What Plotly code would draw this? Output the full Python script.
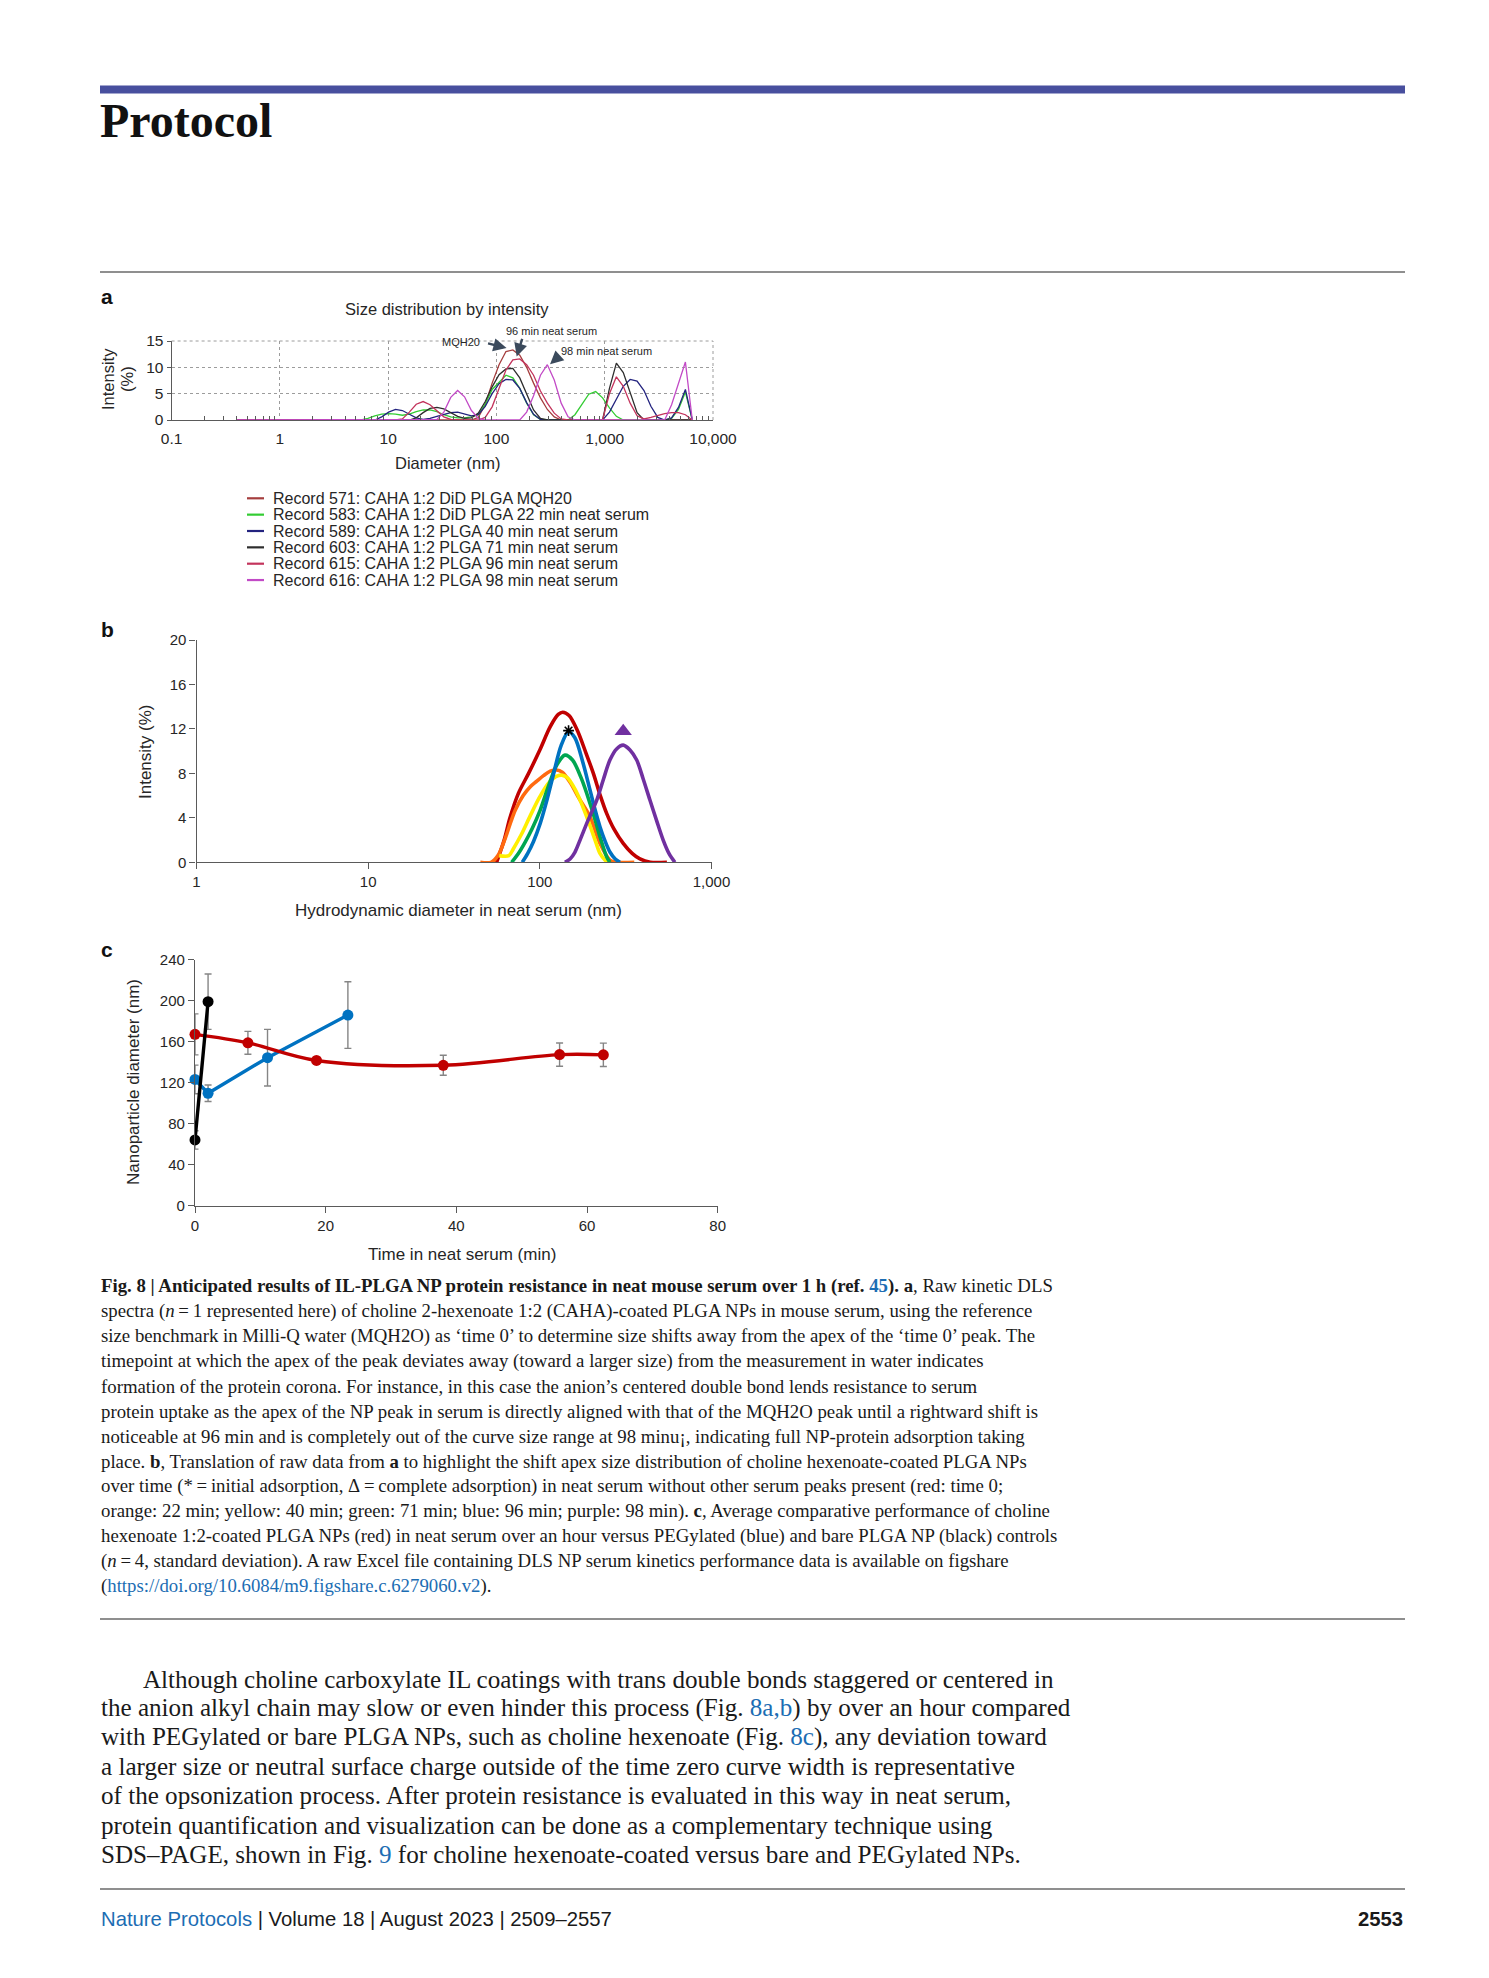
import math
import plotly.graph_objects as go

W, H = 1489, 1978
SANS = "Liberation Sans, Arial, sans-serif"
SERIF = "Liberation Serif, Times New Roman, serif"
TXT = "#262626"
AXC = "#5a5a5a"
LINK = "#1c6db3"

# ---------------- Panel a: raw DLS size distributions ----------------
SIZE_BINS_NM = [0.4, 0.4632, 0.5365, 0.6213, 0.7195, 0.8332, 0.9649, 1.117, 1.294, 1.499,
                1.736, 2.01, 2.328, 2.696, 3.122, 3.615, 4.187, 4.849, 5.615, 6.503,
                7.531, 8.721, 10.1, 11.7, 13.54, 15.69, 18.17, 21.04, 24.36, 28.21,
                32.67, 37.84, 43.82, 50.75, 58.77, 68.06, 78.82, 91.28, 105.7, 122.4,
                141.8, 164.2, 190.1, 220.2, 255.0, 295.3, 342.0, 396.1, 458.7, 531.2,
                615.1, 712.4, 825.0, 955.4, 1106, 1281, 1484, 1718, 1990, 2305,
                2669, 3091, 3580, 4145, 4801, 5560, 6439]

REC_571 = [0, 0, 0, 0, 0, 0, 0, 0, 0, 0,
           0, 0, 0, 0, 0, 0, 0, 0, 0, 0,
           0, 0, 0, 0, 0, 0, 0, 0, 0, 0,
           0, 0, 0, 0, 0, 0.5, 3.0, 7.0, 10.5, 13.0,
           13.3, 12.3, 10.0, 7.0, 4.2, 2.0, 0.6, 0, 0, 0,
           0, 0, 0, 0, 0, 0, 0, 0, 0, 0,
           0, 0, 0, 0, 0, 0, 0]
REC_583 = [0, 0, 0, 0, 0, 0, 0, 0, 0, 0,
           0, 0, 0, 0, 0, 0, 0, 0, 0, 0.3,
           0.8, 1.1, 1.2, 1.1, 0.9, 1.1, 1.6, 1.9, 1.9, 1.6,
           1.0, 0.6, 0.4, 0.4, 0.6, 1.0, 3.0, 5.8, 7.2, 8.5,
           8.0, 6.0, 3.2, 1.0, 0.1, 0, 0, 0, 0, 1.0,
           3.0, 4.9, 5.4, 4.2, 2.3, 0.7, 0, 0, 0, 0,
           0, 0, 0, 0.3, 2.0, 5.3, 0]
REC_589 = [0, 0, 0, 0, 0, 0, 0, 0, 0, 0,
           0, 0, 0, 0, 0, 0, 0, 0, 0, 0,
           0, 0.6, 1.5, 2.0, 1.8, 1.1, 0.4, 0.1, 0.3, 0.7,
           1.1, 1.4, 1.5, 1.2, 0.8, 1.0, 2.6, 5.0, 6.9, 7.7,
           7.6, 6.0, 3.3, 1.1, 0.1, 0, 0, 0, 0, 0,
           0, 0, 0, 0, 1.5, 4.0, 6.4, 7.7, 7.4, 5.6,
           2.6, 0.5, 0, 0.4, 2.4, 5.8, 0]
REC_603 = [0, 0, 0, 0, 0, 0, 0, 0, 0, 0,
           0, 0, 0, 0, 0, 0, 0, 0, 0, 0,
           0, 0, 0, 0, 0, 0, 0.4, 1.4, 2.2, 2.4,
           2.1, 1.4, 0.7, 0.3, 0.4, 1.3, 3.5, 6.3, 8.6, 9.7,
           9.8, 8.0, 4.9, 1.9, 0.3, 0, 0, 0, 0, 0,
           0, 0, 0, 0, 6.0, 10.8, 9.0, 5.2, 1.4, 0,
           0, 0, 0, 0, 0, 0, 0]
REC_615 = [0, 0, 0, 0, 0, 0, 0, 0, 0, 0,
           0, 0, 0, 0, 0, 0, 0, 0, 0, 0,
           0, 0, 0, 0, 0.2, 1.5, 3.0, 3.5, 2.9, 1.7,
           0.6, 0.1, 0, 0, 0, 0, 0.5, 2.5, 6.0, 9.5,
           11.4, 11.6, 10.5, 8.5, 5.5, 3.2, 1.3, 0.2, 0, 0,
           0, 0, 0, 0, 5.0, 8.2, 6.4, 3.2, 0.8, 0.2,
           0.5, 0.9, 1.2, 1.4, 1.4, 1.0, 0]
REC_616 = [0, 0, 0, 0, 0, 0, 0, 0, 0, 0,
           0, 0, 0, 0, 0, 0, 0, 0, 0, 0,
           0, 0, 0, 0, 0, 0, 0, 0, 0, 0.1,
           1.5, 4.3, 5.6, 4.4, 1.8, 0.3, 0, 0, 0, 0,
           0, 0, 1.5, 4.6, 8.5, 10.5, 7.6, 3.2, 0.6, 0,
           0, 0, 0, 0, 0, 0, 0, 0, 0, 0,
           0, 0, 0, 2.9, 7.0, 11.0, 0]

A_SERIES = [REC_571, REC_583, REC_589, REC_603, REC_615, REC_616]
A_NAMES = ["Record 571: CAHA 1:2 DiD PLGA MQH20",
           "Record 583: CAHA 1:2 DiD PLGA 22 min neat serum",
           "Record 589: CAHA 1:2 PLGA 40 min neat serum",
           "Record 603: CAHA 1:2 PLGA 71 min neat serum",
           "Record 615: CAHA 1:2 PLGA 96 min neat serum",
           "Record 616: CAHA 1:2 PLGA 98 min neat serum"]
A_COLORS = ["#a53e3e", "#33cc33", "#23237f", "#2e2e2e", "#c3345c", "#c24ac6"]
A_XTICKS = [0.1, 1, 10, 100, 1000, 10000]
A_XTICKTEXT = ["0.1", "1", "10", "100", "1,000", "10,000"]
A_YTICKS = [0, 5, 10, 15]

# ---------------- Panel b: translated apex curves ----------------
B_RED_X = [56, 62, 67, 75, 86, 100, 115, 128, 136, 148, 165, 185, 205, 225, 245, 270, 306, 345, 383, 440, 550]
B_RED_Y = [0, 2.0, 4.0, 6.2, 8.0, 10.1, 12.2, 13.3, 13.5, 13.2, 11.9, 9.9, 8.0, 6.0, 4.4, 3.0, 1.7, 0.8, 0.3, 0, 0]
B_ORANGE_X = [45, 52, 57, 63, 68, 72, 80, 88, 96, 105, 115, 125, 135, 150, 170, 196, 224, 256, 280, 355]
B_ORANGE_Y = [0, 0, 0.6, 2.2, 3.7, 4.7, 6.0, 6.8, 7.3, 7.8, 8.2, 8.3, 8.1, 7.2, 5.7, 4.1, 1.7, 0.2, 0, 0]
B_YELLOW_X = [58, 66, 70, 78, 88, 100, 112, 124, 134, 145, 160, 178, 196, 212, 224, 240, 251]
B_YELLOW_Y = [0.6, 0.6, 1.2, 2.5, 4.2, 5.9, 7.1, 7.7, 7.84, 7.6, 6.6, 5.0, 3.3, 1.8, 0.8, 0.2, 0]
B_GREEN_X = [68.5, 75, 82, 90, 100.5, 112, 125, 140, 155, 175, 196, 210, 224, 245, 256]
B_GREEN_Y = [0, 0.8, 1.8, 3.0, 4.7, 6.8, 8.7, 9.64, 9.2, 7.5, 5.3, 3.8, 2.3, 0.5, 0]
B_BLUE_X = [79, 85, 92, 100.5, 110, 120, 133, 147, 160, 178, 196, 210, 224, 240, 256, 275, 293]
B_BLUE_Y = [0, 0.8, 1.9, 3.5, 5.6, 7.9, 10.5, 11.74, 11.2, 9.0, 6.5, 4.7, 3.2, 1.9, 0.93, 0.3, 0]
B_PURPLE_X = [140, 150, 160, 171.5, 190, 214.6, 235, 256, 280, 306, 335, 366.6, 400, 437.8, 480, 523, 565, 612]
B_PURPLE_Y = [0, 0.3, 0.9, 2.0, 3.7, 5.6, 7.5, 9.2, 10.2, 10.54, 10.1, 9.2, 7.5, 5.6, 3.7, 2.0, 0.8, 0]
B_CURVES = [("time 0", B_RED_X, B_RED_Y, "#c00000"),
            ("22 min", B_ORANGE_X, B_ORANGE_Y, "#ff6a10"),
            ("40 min", B_YELLOW_X, B_YELLOW_Y, "#ffef00"),
            ("71 min", B_GREEN_X, B_GREEN_Y, "#00a651"),
            ("96 min", B_BLUE_X, B_BLUE_Y, "#0072c1"),
            ("98 min", B_PURPLE_X, B_PURPLE_Y, "#7030a0")]
B_INITIAL_MARK = ([147], [11.85])     # * = initial adsorption
B_COMPLETE_MARK = ([306], [11.8])     # triangle = complete adsorption
B_XTICKS = [1, 10, 100, 1000]
B_XTICKTEXT = ["1", "10", "100", "1,000"]
B_YTICKS = [0, 4, 8, 12, 16, 20]

# ---------------- Panel c: average diameters over time ----------------
C_TIME_RED = [0, 8.1, 18.6, 38.0, 55.8, 62.5]
C_SIZE_RED = [167, 158.7, 141.5, 136.8, 147.2, 147.0]
C_ERR_RED = [20, 11.2, 1.5, 9.8, 11.4, 11.4]
C_TIME_BLUE = [0, 2.0, 11.1, 23.4]
C_SIZE_BLUE = [123, 109.5, 144.2, 185.8]
C_ERR_BLUE = [14, 8.0, 27.6, 32.5]
C_TIME_BLACK = [0, 2.0]
C_SIZE_BLACK = [64, 198.8]
C_ERR_BLACK = [9, 27]
C_XTICKS = [0, 20, 40, 60, 80]
C_YTICKS = [0, 40, 80, 120, 160, 200, 240]


def fx(x):
    return x / W


def fy(y):
    return 1 - y / H


fig = go.Figure()

# panel a traces
for name, ys, col in zip(A_NAMES, A_SERIES, A_COLORS):
    fig.add_trace(go.Scatter(x=SIZE_BINS_NM, y=ys, mode="lines", name=name,
                             line=dict(color=col, width=1.3),
                             xaxis="x", yaxis="y", showlegend=False))

# panel b traces
for name, xs, ys, col in B_CURVES:
    fig.add_trace(go.Scatter(x=xs, y=ys, mode="lines", name=name,
                             line=dict(color=col, width=3.6, shape="spline", smoothing=0.9),
                             xaxis="x2", yaxis="y2", showlegend=False))
fig.add_trace(go.Scatter(x=B_INITIAL_MARK[0], y=B_INITIAL_MARK[1], mode="markers",
                         marker=dict(symbol="asterisk-open", size=9, color="#000000",
                                     line=dict(color="#000000", width=1.6)),
                         xaxis="x2", yaxis="y2", showlegend=False, cliponaxis=False))
fig.add_trace(go.Scatter(x=B_COMPLETE_MARK[0], y=B_COMPLETE_MARK[1], mode="markers",
                         marker=dict(symbol="triangle-up", size=15, color="#7030a0"),
                         xaxis="x2", yaxis="y2", showlegend=False, cliponaxis=False))

# panel c traces
ERRC = "#858585"
fig.add_trace(go.Scatter(x=C_TIME_BLUE, y=C_SIZE_BLUE, mode="lines+markers", name="PEGylated",
                         line=dict(color="#0072c1", width=3.4),
                         marker=dict(size=11, color="#0072c1"),
                         error_y=dict(type="data", array=C_ERR_BLUE, color=ERRC, thickness=1.4, width=3.5),
                         xaxis="x3", yaxis="y3", showlegend=False, cliponaxis=False))
fig.add_trace(go.Scatter(x=C_TIME_RED, y=C_SIZE_RED, mode="lines+markers", name="CAHA 1:2",
                         line=dict(color="#c00000", width=3.4, shape="spline", smoothing=1.0),
                         marker=dict(size=11, color="#c00000"),
                         error_y=dict(type="data", array=C_ERR_RED, color=ERRC, thickness=1.4, width=3.5),
                         xaxis="x3", yaxis="y3", showlegend=False, cliponaxis=False))
fig.add_trace(go.Scatter(x=C_TIME_BLACK, y=C_SIZE_BLACK, mode="lines+markers", name="bare PLGA",
                         line=dict(color="#000000", width=3.4),
                         marker=dict(size=11, color="#000000"),
                         error_y=dict(type="data", array=C_ERR_BLACK, color=ERRC, thickness=1.4, width=3.5),
                         xaxis="x3", yaxis="y3", showlegend=False, cliponaxis=False))

tickfont = dict(family=SANS, size=15, color=TXT)
minor_a = [m * 10 ** e for e in range(-1, 4) for m in range(2, 10)]

fig.update_layout(
    width=W, height=H, margin=dict(l=0, r=0, t=0, b=0, autoexpand=False),
    paper_bgcolor="white", plot_bgcolor="rgba(0,0,0,0)", showlegend=False,
    xaxis=dict(domain=[fx(171.6), fx(713)], anchor="y", type="log", range=[-1, 4],
               tickmode="array", tickvals=A_XTICKS, ticktext=A_XTICKTEXT, ticks="",
               showline=True, linecolor=AXC, linewidth=1.2, zeroline=False, automargin=False,
               showgrid=True, gridcolor="#9c9c9c", griddash="dot", gridwidth=1,
               minor=dict(tickmode="array", tickvals=minor_a, ticks="inside", ticklen=4,
                          tickcolor=AXC, tickwidth=1, showgrid=False),
               tickfont=dict(family=SANS, size=15.5, color=TXT), ticklabelstandoff=4),
    yaxis=dict(domain=[fy(420), fy(341)], anchor="x", range=[0, 15],
               tickmode="array", tickvals=A_YTICKS, ticks="outside", ticklen=4, tickcolor=AXC,
               showline=True, linecolor=AXC, linewidth=1.2, zeroline=False, automargin=False,
               showgrid=True, gridcolor="#9c9c9c", griddash="dot", gridwidth=1,
               tickfont=dict(family=SANS, size=15.5, color=TXT)),
    xaxis2=dict(domain=[fx(196.5), fx(711.5)], anchor="y2", type="log", range=[0, 3],
                tickmode="array", tickvals=B_XTICKS, ticktext=B_XTICKTEXT,
                ticks="outside", ticklen=6, tickcolor=AXC, showline=True, linecolor=AXC,
                linewidth=1.2, showgrid=False, zeroline=False, automargin=False, tickfont=tickfont),
    yaxis2=dict(domain=[fy(862.3), fy(640)], anchor="x2", range=[0, 20],
                tickmode="array", tickvals=B_YTICKS, ticks="outside", ticklen=6, tickcolor=AXC,
                showline=True, linecolor=AXC, linewidth=1.2, showgrid=False, zeroline=False,
                automargin=False, tickfont=tickfont),
    xaxis3=dict(domain=[fx(195), fx(717.7)], anchor="y3", range=[0, 80],
                tickmode="array", tickvals=C_XTICKS, ticks="outside", ticklen=6, tickcolor=AXC,
                showline=True, linecolor=AXC, linewidth=1.2, showgrid=False, zeroline=False,
                automargin=False, tickfont=tickfont),
    yaxis3=dict(domain=[fy(1205.5), fy(959.5)], anchor="x3", range=[0, 240],
                tickmode="array", tickvals=C_YTICKS, ticks="outside", ticklen=6, tickcolor=AXC,
                showline=True, linecolor=AXC, linewidth=1.2, showgrid=False, zeroline=False,
                automargin=False, tickfont=tickfont),
)

shapes = []
# header bar and rules
shapes.append(dict(type="rect", xref="paper", yref="paper", x0=fx(100), x1=fx(1405),
                   y0=fy(93.5), y1=fy(85.5), fillcolor="#484f9e", line=dict(width=0)))
for yy in (272, 1619, 1889):
    shapes.append(dict(type="line", xref="paper", yref="paper", x0=fx(100), x1=fx(1405),
                       y0=fy(yy), y1=fy(yy), line=dict(color="#6a6a6a", width=1.3)))
# panel a dotted frame (top and right)
shapes.append(dict(type="line", xref="x domain", yref="y domain", x0=0, x1=1, y0=1, y1=1,
                   line=dict(color="#9c9c9c", width=1, dash="dot")))
shapes.append(dict(type="line", xref="x domain", yref="y domain", x0=1, x1=1, y0=0, y1=1,
                   line=dict(color="#9c9c9c", width=1, dash="dot")))
# panel a legend swatches
LEG_Y0, LEG_DY = 498.3, 16.35
for i, col in enumerate(A_COLORS):
    yy = LEG_Y0 + i * LEG_DY
    shapes.append(dict(type="line", xref="paper", yref="paper", x0=fx(247), x1=fx(264),
                       y0=fy(yy), y1=fy(yy), line=dict(color=col, width=2.2)))

ann = []


def note(text, x, y, size, family=SANS, color=TXT, xanchor="center", yanchor="middle", angle=0):
    ann.append(dict(text=text, x=fx(x), y=fy(y), xref="paper", yref="paper", showarrow=False,
                    font=dict(family=family, size=size, color=color), xanchor=xanchor,
                    yanchor=yanchor, textangle=angle))


# header
note("<b>Protocol</b>", 98, 121, 48, family=SERIF, color="#111111", xanchor="left")

# panel labels
note("<b>a</b>", 99, 296, 21, color="#111111", xanchor="left")
note("<b>b</b>", 99, 630, 21, color="#111111", xanchor="left")
note("<b>c</b>", 99, 949, 21, color="#111111", xanchor="left")

# panel a texts
note("Size distribution by intensity", 447, 309, 16.5)
note("Intensity", 108, 379, 16.5, angle=-90)
note("(%)", 127, 379, 16.5, angle=-90)
note("Diameter (nm)", 447, 462.5, 16.5)
note("MQH20", 461, 341.5, 11)
note("96 min neat serum", 551.5, 331, 11)
note("98 min neat serum", 606, 351, 11)
for i, name in enumerate(A_NAMES):
    note(name, 271, LEG_Y0 + i * LEG_DY, 16, xanchor="left")

ARROWC = "#3b4a5c"
for tip_nm, tip_y, axp, ayp in [(124, 13.66, -20, -5), (153.8, 12.06, 6, -19), (312.6, 10.6, 10, -9)]:
    ann.append(dict(text="", x=math.log10(tip_nm), y=tip_y, xref="x", yref="y",
                    showarrow=True, ax=axp, ay=ayp, arrowhead=2, arrowsize=1.1,
                    arrowwidth=2.4, arrowcolor=ARROWC))

# panel b texts
note("Intensity (%)", 146, 752, 17, angle=-90)
note("Hydrodynamic diameter in neat serum (nm)", 459, 910, 17)

# panel c texts
note("Nanoparticle diameter (nm)", 133, 1082, 17, angle=-90)
note("Time in neat serum (min)", 462, 1254, 17)

# caption
T = "\u2009"
CAPTION = [
    f"<b>Fig. 8 | Anticipated results of IL-PLGA NP protein resistance in neat mouse serum over 1 h (ref. <span style='color:{LINK}'>45</span>). a</b>, Raw kinetic DLS",
    f"spectra (<i>n</i>{T}={T}1 represented here) of choline 2-hexenoate 1:2 (CAHA)-coated PLGA NPs in mouse serum, using the reference",
    "size benchmark in Milli-Q water (MQH2O) as \u2018time 0\u2019 to determine size shifts away from the apex of the \u2018time 0\u2019 peak. The",
    "timepoint at which the apex of the peak deviates away (toward a larger size) from the measurement in water indicates",
    "formation of the protein corona. For instance, in this case the anion\u2019s centered double bond lends resistance to serum",
    "protein uptake as the apex of the NP peak in serum is directly aligned with that of the MQH2O peak until a rightward shift is",
    "noticeable at 96 min and is completely out of the curve size range at 98 minu\u00a1, indicating full NP-protein adsorption taking",
    "place. <b>b</b>, Translation of raw data from <b>a</b> to highlight the shift apex size distribution of choline hexenoate-coated PLGA NPs",
    f"over time (*{T}={T}initial adsorption, \u0394{T}={T}complete adsorption) in neat serum without other serum peaks present (red: time 0;",
    "orange: 22 min; yellow: 40 min; green: 71 min; blue: 96 min; purple: 98 min). <b>c</b>, Average comparative performance of choline",
    "hexenoate 1:2-coated PLGA NPs (red) in neat serum over an hour versus PEGylated (blue) and bare PLGA NP (black) controls",
    f"(<i>n</i>{T}={T}4, standard deviation). A raw Excel file containing DLS NP serum kinetics performance data is available on figshare",
    f"(<span style='color:{LINK}'>https://doi.org/10.6084/m9.figshare.c.6279060.v2</span>).",
]
for i, line in enumerate(CAPTION):
    note(line, 99, 1286 + i * 25, 18.8, family=SERIF, color="#1a1a1a", xanchor="left")

BODY = [
    "Although choline carboxylate IL coatings with trans double bonds staggered or centered in",
    f"the anion alkyl chain may slow or even hinder this process (Fig. <span style='color:{LINK}'>8a,b</span>) by over an hour compared",
    f"with PEGylated or bare PLGA NPs, such as choline hexenoate (Fig. <span style='color:{LINK}'>8c</span>), any deviation toward",
    "a larger size or neutral surface charge outside of the time zero curve width is representative",
    "of the opsonization process. After protein resistance is evaluated in this way in neat serum,",
    "protein quantification and visualization can be done as a complementary technique using",
    f"SDS\u2013PAGE, shown in Fig. <span style='color:{LINK}'>9</span> for choline hexenoate-coated versus bare and PEGylated NPs.",
]
for i, line in enumerate(BODY):
    note(line, 141 if i == 0 else 99, 1679 + i * 29.2, 25.1, family=SERIF, color="#1a1a1a", xanchor="left")

# footer
note(f"<span style='color:{LINK}'>Nature Protocols</span> | Volume 18 | August 2023 | 2509\u20132557",
     99, 1919, 20.3, color="#1a1a1a", xanchor="left")
note("<b>2553</b>", 1405, 1919, 20.3, color="#1a1a1a", xanchor="right")

fig.update_layout(shapes=shapes, annotations=ann)
fig.write_html("out.html", config={"displayModeBar": False},
               post_script="document.body.style.margin='0px';document.body.style.overflow='hidden';")
